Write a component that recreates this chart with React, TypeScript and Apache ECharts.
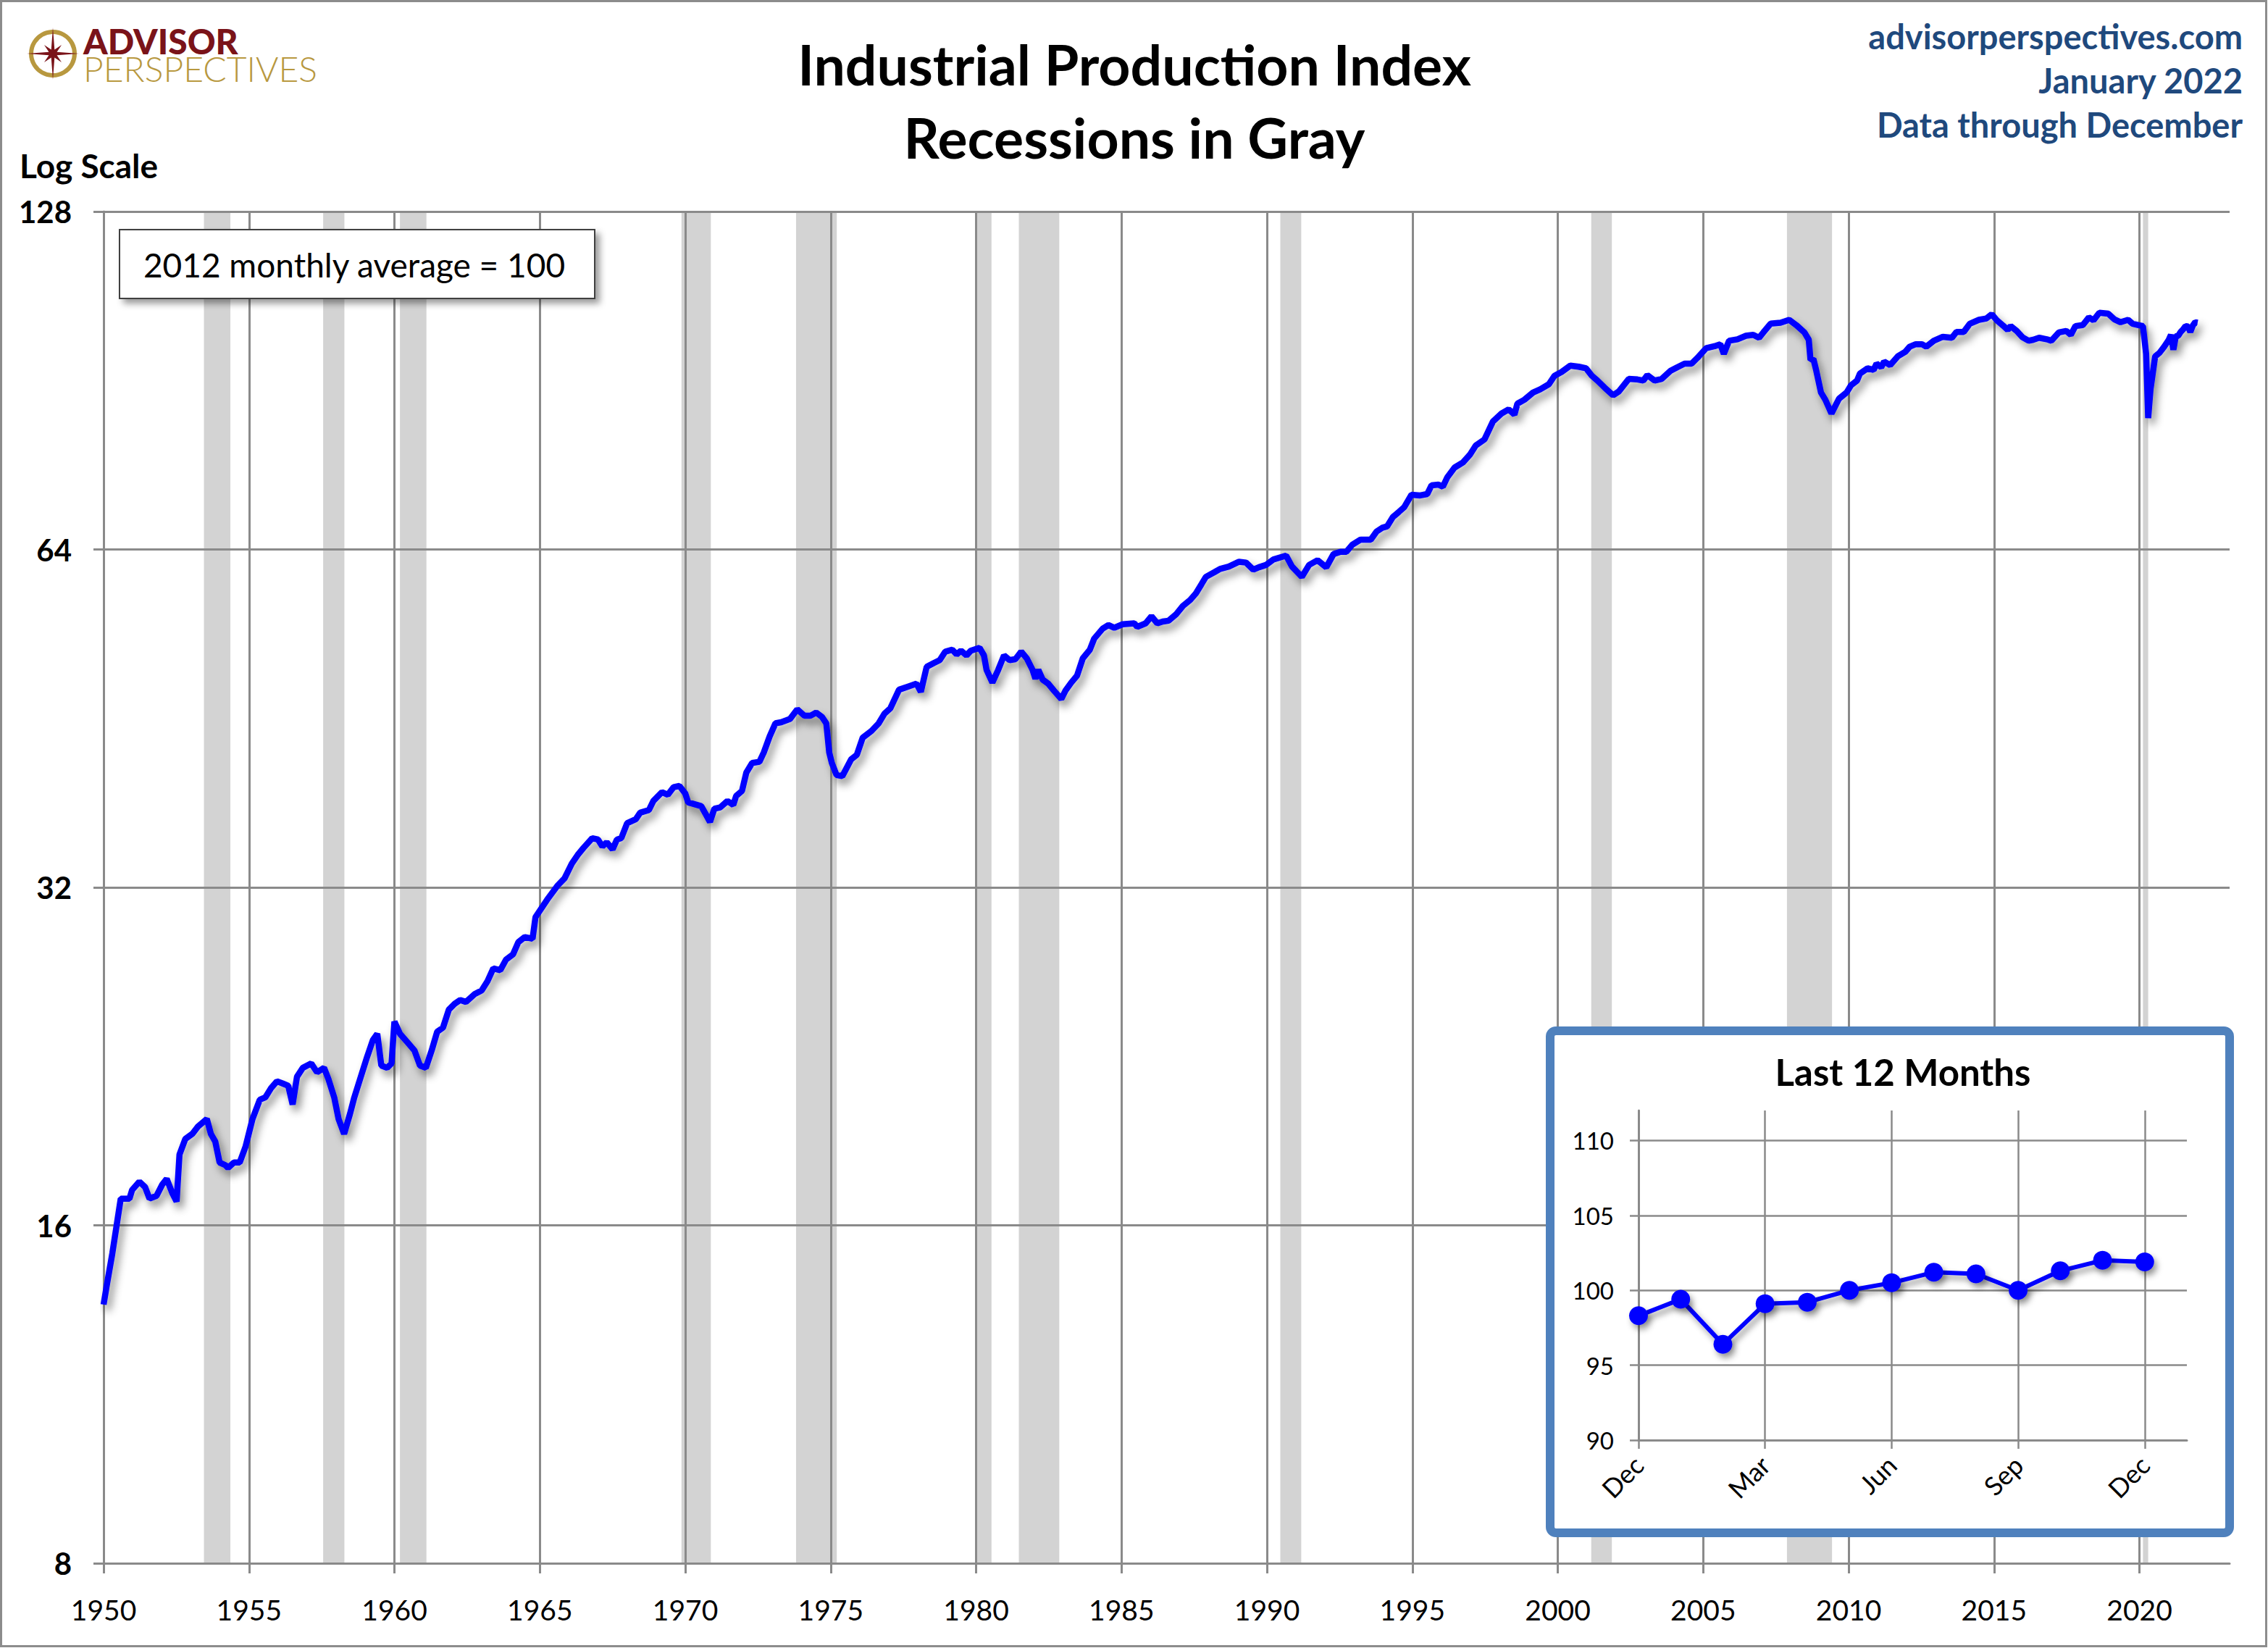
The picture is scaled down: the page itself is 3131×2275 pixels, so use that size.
import React, { useEffect, useRef } from "react";
import * as echarts from "echarts";

const FONT = "Lato";

// ---- axis ticks ----
const xTickYears = [1950, 1955, 1960, 1965, 1970, 1975, 1980, 1985, 1990, 1995, 2000, 2005, 2010, 2015, 2020];
const yTickValues = [8, 16, 32, 64, 128];

// ---- recessions (start, end as fractional years) ----
const recessions = [
  [1953.45, 1954.36], [1957.55, 1958.28], [1960.19, 1961.1], [1969.87, 1970.88],
  [1973.81, 1975.21], [1980.0, 1980.53], [1981.47, 1982.86], [1990.46, 1991.18],
  [2001.15, 2001.86], [2007.88, 2009.43], [2020.12, 2020.3],
];

// ---- Industrial production index, [year, value] ----
const ip1950s = [
  [1950.0, 13.6], [1950.1, 14.1], [1950.3, 15.1], [1950.59, 16.9], [1950.89, 16.9], [1950.98, 17.2],
  [1951.23, 17.5], [1951.43, 17.3], [1951.58, 16.9], [1951.82, 17.0], [1952.02, 17.4], [1952.17, 17.6],
  [1952.36, 17.1], [1952.51, 16.8], [1952.61, 18.5], [1952.81, 19.1], [1953.05, 19.3], [1953.25, 19.6],
  [1953.55, 19.9], [1953.69, 19.3], [1953.84, 19.0], [1953.99, 18.2], [1954.19, 18.1], [1954.28, 18.0],
  [1954.48, 18.2], [1954.68, 18.2], [1954.88, 18.8], [1955.12, 19.9], [1955.37, 20.7], [1955.56, 20.8],
  [1955.76, 21.2], [1955.96, 21.5], [1956.16, 21.4], [1956.35, 21.3], [1956.5, 20.5], [1956.65, 21.7],
  [1956.85, 22.1], [1957.14, 22.3], [1957.34, 21.9], [1957.58, 22.1], [1957.73, 21.6], [1957.93, 20.8],
  [1958.08, 19.9], [1958.27, 19.3], [1958.47, 20.1], [1958.62, 20.8], [1958.82, 21.6], [1959.06, 22.6],
  [1959.26, 23.4], [1959.41, 23.7], [1959.55, 22.2], [1959.75, 22.1], [1959.9, 22.3],
];
const ip1960s = [
  [1960.0, 24.3], [1960.19, 23.7], [1960.44, 23.3], [1960.69, 22.9], [1960.88, 22.2], [1961.08, 22.1],
  [1961.28, 22.9], [1961.47, 23.8], [1961.67, 24.0], [1961.87, 24.9], [1962.07, 25.2], [1962.26, 25.4],
  [1962.46, 25.3], [1962.75, 25.7], [1963.0, 25.9], [1963.2, 26.4], [1963.4, 27.1], [1963.64, 27.0],
  [1963.84, 27.6], [1964.08, 27.9], [1964.26, 28.6], [1964.48, 28.9], [1964.75, 28.8], [1964.85, 30.1],
  [1965.25, 31.2], [1965.6, 32.1], [1965.85, 32.6], [1966.1, 33.6], [1966.3, 34.2], [1966.5, 34.7],
  [1966.8, 35.4], [1967.0, 35.3], [1967.15, 34.8], [1967.3, 35.1], [1967.5, 34.6], [1967.65, 35.3],
  [1967.8, 35.4], [1968.0, 36.5], [1968.3, 36.8], [1968.45, 37.3], [1968.75, 37.5], [1968.9, 38.2],
  [1969.2, 38.9], [1969.4, 38.7], [1969.6, 39.3], [1969.8, 39.4],
];
const ip1970s = [
  [1970.0, 38.8], [1970.1, 38.1], [1970.4, 37.9], [1970.55, 37.8], [1970.7, 37.2], [1970.85, 36.6],
  [1971.0, 37.6], [1971.2, 37.7], [1971.45, 38.2], [1971.65, 37.9], [1971.75, 38.6], [1971.95, 39.0],
  [1972.1, 40.5], [1972.3, 41.3], [1972.55, 41.4], [1972.7, 42.2], [1972.9, 43.6], [1973.1, 44.8],
  [1973.3, 44.9], [1973.6, 45.2], [1973.85, 46.1], [1974.1, 45.5], [1974.3, 45.5], [1974.5, 45.8],
  [1974.7, 45.4], [1974.85, 44.8], [1974.95, 42.2], [1975.04, 41.3], [1975.2, 40.3], [1975.4, 40.2],
  [1975.7, 41.6], [1975.9, 42.0], [1976.1, 43.5], [1976.4, 44.1], [1976.65, 44.8], [1976.85, 45.7],
  [1977.05, 46.2], [1977.35, 48.0], [1977.65, 48.3], [1977.95, 48.6], [1978.1, 47.8], [1978.3, 50.3],
  [1978.55, 50.7], [1978.75, 51.0], [1978.94, 51.9], [1979.18, 52.1], [1979.33, 51.6], [1979.48, 52.0],
  [1979.67, 51.5], [1979.82, 52.0],
];
const ip1980s = [
  [1980.12, 52.3], [1980.27, 51.5], [1980.36, 50.0], [1980.56, 48.7], [1980.76, 50.0], [1980.96, 51.5],
  [1981.15, 51.0], [1981.35, 51.1], [1981.55, 51.9], [1981.74, 51.2], [1981.94, 50.0], [1982.04, 49.1],
  [1982.14, 50.0], [1982.29, 49.0], [1982.48, 48.6], [1982.68, 47.9], [1982.93, 47.1], [1983.07, 47.9],
  [1983.27, 48.7], [1983.47, 49.4], [1983.67, 51.2], [1983.91, 52.1], [1984.06, 53.3], [1984.35, 54.4],
  [1984.55, 54.8], [1984.75, 54.5], [1985.04, 54.9], [1985.44, 55.0], [1985.54, 54.6], [1985.83, 55.0],
  [1986.03, 55.8], [1986.23, 55.0], [1986.42, 55.2], [1986.62, 55.3], [1986.87, 56.0], [1987.11, 57.0],
  [1987.36, 57.7], [1987.56, 58.5], [1987.75, 59.6], [1987.9, 60.5], [1988.2, 61.1], [1988.39, 61.5],
  [1988.69, 61.8], [1989.03, 62.4], [1989.28, 62.3], [1989.53, 61.4], [1989.72, 61.7], [1989.97, 62.0],
];
const ip1990s = [
  [1990.22, 62.7], [1990.66, 63.2], [1990.86, 61.8], [1991.2, 60.5], [1991.45, 62.0], [1991.74, 62.6],
  [1992.04, 61.7], [1992.29, 63.4], [1992.53, 63.7], [1992.73, 63.7], [1992.93, 64.6], [1993.22, 65.3],
  [1993.57, 65.3], [1993.77, 66.4], [1993.96, 66.9], [1994.13, 67.1], [1994.33, 68.4], [1994.53, 69.1],
  [1994.72, 69.8], [1994.97, 71.6], [1995.27, 71.5], [1995.51, 71.7], [1995.66, 73.0], [1995.9, 73.1],
  [1996.05, 72.8], [1996.2, 74.2], [1996.45, 75.7], [1996.74, 76.5], [1996.99, 77.8], [1997.18, 79.2],
  [1997.48, 80.2], [1997.77, 83.2], [1998.07, 84.6], [1998.31, 85.3], [1998.51, 84.4], [1998.61, 86.3],
  [1998.85, 87.0], [1999.15, 88.3], [1999.4, 88.9], [1999.69, 89.8], [1999.89, 91.4],
];
const ip2000s = [
  [2000.13, 92.1], [2000.43, 93.3], [2000.72, 93.1], [2000.97, 92.8], [2001.17, 91.4], [2001.36, 90.5],
  [2001.61, 89.2], [2001.9, 87.8], [2002.1, 88.5], [2002.44, 90.8], [2002.74, 90.7], [2002.94, 90.5],
  [2003.08, 91.5], [2003.33, 90.5], [2003.57, 90.8], [2003.87, 92.3], [2004.11, 93.0], [2004.36, 93.7],
  [2004.6, 93.7], [2004.8, 94.8], [2005.1, 96.7], [2005.39, 97.1], [2005.59, 97.5], [2005.71, 95.6],
  [2005.89, 98.2], [2006.18, 98.5], [2006.47, 99.2], [2006.72, 99.4], [2006.92, 98.8], [2007.07, 99.9],
  [2007.32, 101.7], [2007.66, 101.9], [2007.96, 102.5], [2008.2, 101.4], [2008.48, 99.9], [2008.63, 98.4],
  [2008.69, 94.4], [2008.79, 94.6], [2008.89, 92.3], [2009.05, 88.3], [2009.2, 87.0], [2009.41, 84.6],
  [2009.67, 87.2], [2009.93, 88.3],
];
const ip2010s = [
  [2010.08, 89.6], [2010.29, 90.5], [2010.39, 91.8], [2010.65, 92.8], [2010.86, 92.5], [2010.96, 93.7],
  [2011.12, 93.0], [2011.22, 94.1], [2011.43, 93.4], [2011.69, 95.1], [2011.95, 96.0], [2012.1, 97.0],
  [2012.31, 97.5], [2012.52, 97.5], [2012.67, 97.0], [2012.93, 98.2], [2013.24, 99.0], [2013.55, 98.8],
  [2013.71, 100.0], [2013.96, 100.0], [2014.17, 101.7], [2014.48, 102.5], [2014.74, 102.8], [2014.92, 103.7],
  [2015.1, 102.4], [2015.31, 101.3], [2015.47, 100.4], [2015.57, 101.2], [2015.78, 100.2], [2015.98, 98.9],
  [2016.19, 98.2], [2016.35, 98.4], [2016.55, 98.8], [2016.81, 98.5], [2016.97, 98.2], [2017.23, 99.9],
  [2017.48, 100.2], [2017.64, 99.4], [2017.8, 101.2], [2018.05, 101.4], [2018.26, 103.0], [2018.42, 102.4],
  [2018.62, 104.0], [2018.93, 103.8], [2019.14, 102.6], [2019.35, 102.0], [2019.61, 102.5], [2019.76, 101.7],
  [2019.97, 101.4],
];
const ip2020 = [
  [2020.12, 101.2], [2020.23, 95.6], [2020.3, 83.8], [2020.38, 88.9], [2020.54, 95.1], [2020.69, 95.8],
  [2020.85, 97.0],
];

// ---- Last 12 months (Dec 2020 .. Dec 2021) ----
const insetMonths = ["Dec", "Jan", "Feb", "Mar", "Apr", "May", "Jun", "Jul", "Aug", "Sep", "Oct", "Nov", "Dec"];
const insetValues = [98.3, 99.4, 96.4, 99.1, 99.2, 100.0, 100.5, 101.2, 101.1, 100.0, 101.3, 102.0, 101.9];
const insetYTicks = [90, 95, 100, 105, 110];
const insetStartYear = 2021.0; // position of Dec 2020 on the main x axis

const GRID_COLOR = "#8A8A8A";

function buildStar(cx: number, cy: number) {
  const pts: number[][] = [];
  for (let k = 0; k < 16; k++) {
    const ang = (k * Math.PI) / 8 - Math.PI / 2;
    let r = 6;
    if (k % 4 === 0) r = 36;
    else if (k % 2 === 0) r = 17;
    pts.push([cx + r * Math.cos(ang), cy + r * Math.sin(ang)]);
  }
  return pts;
}

export default function App() {
  const ref = useRef<HTMLDivElement>(null);

  useEffect(() => {
    document.body.style.margin = "0";
    if (!ref.current) return;
    const chart = echarts.init(ref.current, null, { renderer: "svg" });

    const mainData = [
      ...ip1950s, ...ip1960s, ...ip1970s, ...ip1980s, ...ip1990s, ...ip2000s, ...ip2010s, ...ip2020,
      ...insetValues.map((v, i) => [insetStartYear + i / 12, v]),
    ];
    const insetCats = [...insetMonths, ""];

    const axisLine = { show: true, lineStyle: { color: GRID_COLOR, width: 3 } };
    const textStyle = (size: number, weight: any, fill: string, align: string) => ({
      fill,
      fontFamily: FONT,
      fontSize: size,
      fontWeight: weight,
      textAlign: align,
      textVerticalAlign: "middle",
    });

    const option: any = {
      animation: false,
      backgroundColor: "#ffffff",
      grid: [
        { left: 143, right: 53, top: 292, bottom: 117 },
        { left: 2262, width: 757, top: 1533, height: 455 },
      ],
      xAxis: [
        {
          type: "value",
          gridIndex: 0,
          min: 1950,
          max: 2023.1,
          interval: 5,
          z: 2,
          axisLine,
          axisTick: { show: true, length: 14, lineStyle: { color: GRID_COLOR, width: 3 }, customValues: xTickYears },
          axisLabel: {
            color: "#000",
            fontFamily: FONT,
            fontSize: 39,
            margin: 44,
            customValues: xTickYears,
            formatter: (v: number) => String(v),
          },
          splitLine: { show: true, lineStyle: { color: GRID_COLOR, width: 3 } },
        },
        {
          type: "category",
          gridIndex: 1,
          data: insetCats,
          boundaryGap: false,
          z: 5,
          axisLine,
          axisTick: { show: true, interval: 2, length: 12, lineStyle: { color: GRID_COLOR, width: 2.5 } },
          axisLabel: { interval: 2, rotate: 45, color: "#000", fontFamily: FONT, fontSize: 36, margin: 28 },
          splitLine: { show: true, interval: 2, lineStyle: { color: GRID_COLOR, width: 2.5 } },
        },
      ],
      yAxis: [
        {
          type: "log",
          logBase: 2,
          gridIndex: 0,
          min: 8,
          max: 128,
          z: 2,
          axisLine,
          axisTick: { show: true, length: 14, lineStyle: { color: GRID_COLOR, width: 3 }, customValues: yTickValues },
          axisLabel: {
            color: "#000",
            fontFamily: FONT,
            fontSize: 42,
            fontWeight: "bold",
            margin: 44,
            customValues: yTickValues,
          },
          splitLine: { show: true, lineStyle: { color: GRID_COLOR, width: 3 } },
        },
        {
          type: "value",
          gridIndex: 1,
          min: 90,
          max: 112,
          interval: 5,
          z: 5,
          axisLine,
          axisTick: { show: true, length: 12, lineStyle: { color: GRID_COLOR, width: 2.5 }, customValues: insetYTicks },
          axisLabel: {
            color: "#000",
            fontFamily: FONT,
            fontSize: 33,
            margin: 34,
            customValues: insetYTicks,
          },
          splitLine: { show: true, lineStyle: { color: GRID_COLOR, width: 2.5 } },
        },
      ],
      series: [
        {
          type: "custom",
          xAxisIndex: 0,
          yAxisIndex: 0,
          z: 1,
          silent: true,
          encode: { x: [0, 1], y: 2 },
          data: recessions.map((r) => [r[0], r[1], 16]),
          renderItem: (params: any, api: any) => {
            const x0 = api.coord([api.value(0), 16])[0];
            const x1 = api.coord([api.value(1), 16])[0];
            const cs = params.coordSys;
            return {
              type: "rect",
              shape: { x: x0, y: cs.y, width: x1 - x0, height: cs.height },
              style: { fill: "#D3D3D3" },
            };
          },
        },
        {
          type: "line",
          xAxisIndex: 0,
          yAxisIndex: 0,
          z: 3,
          data: mainData,
          showSymbol: false,
          silent: true,
          lineStyle: {
            color: "#0000FF",
            width: 8.5,
            shadowColor: "rgba(0,0,0,0.45)",
            shadowBlur: 12,
            shadowOffsetX: 5,
            shadowOffsetY: 8,
          },
        },
        {
          type: "line",
          xAxisIndex: 1,
          yAxisIndex: 1,
          z: 6,
          data: insetValues,
          symbol: "circle",
          symbolSize: 26,
          silent: true,
          itemStyle: {
            color: "#0000FF",
            shadowColor: "rgba(0,0,0,0.4)",
            shadowBlur: 8,
            shadowOffsetX: 4,
            shadowOffsetY: 6,
          },
          lineStyle: {
            color: "#0000FF",
            width: 6,
            shadowColor: "rgba(0,0,0,0.4)",
            shadowBlur: 8,
            shadowOffsetX: 4,
            shadowOffsetY: 6,
          },
        },
      ],
      graphic: [
        // outer border
        {
          type: "rect",
          z: 20,
          silent: true,
          shape: { x: 1.5, y: 1.5, width: 3127, height: 2271 },
          style: { fill: "none", stroke: "#8C8C8C", lineWidth: 3 },
        },
        // logo
        {
          type: "circle",
          z: 10,
          shape: { cx: 73, cy: 74, r: 30 },
          style: { fill: "none", stroke: "#B8983F", lineWidth: 6 },
        },
        {
          type: "polygon",
          z: 11,
          shape: { points: buildStar(73, 74) },
          style: { fill: "#7A1319" },
        },
        {
          type: "text",
          z: 10,
          x: 115,
          y: 37,
          style: {
            text: "{a|ADVISOR}\n{p|PERSPECTIVES}",
            textAlign: "left",
            textVerticalAlign: "top",
            rich: {
              a: { fill: "#7A1319", fontFamily: FONT, fontSize: 48, fontWeight: 900, lineHeight: 38 },
              p: { fill: "#B8983F", fontFamily: FONT, fontSize: 48, fontWeight: 300, lineHeight: 38 },
            },
          },
        },
        // title
        {
          type: "text",
          z: 10,
          x: 1566,
          y: 88,
          style: { text: "Industrial Production Index", ...textStyle(77, "bold", "#000", "center") },
        },
        {
          type: "text",
          z: 10,
          x: 1566,
          y: 189,
          style: { text: "Recessions in Gray", ...textStyle(77, "bold", "#000", "center") },
        },
        // right-hand notes
        {
          type: "text",
          z: 10,
          x: 3096,
          y: 50,
          style: { text: "advisorperspectives.com", ...textStyle(47, "bold", "#1F497D", "right") },
        },
        {
          type: "text",
          z: 10,
          x: 3096,
          y: 111,
          style: { text: "January 2022", ...textStyle(47, "bold", "#1F497D", "right") },
        },
        {
          type: "text",
          z: 10,
          x: 3096,
          y: 172,
          style: { text: "Data through December", ...textStyle(47, "bold", "#1F497D", "right") },
        },
        // Log Scale
        {
          type: "text",
          z: 10,
          x: 27,
          y: 228,
          style: { text: "Log Scale", ...textStyle(46, "bold", "#000", "left") },
        },
        // base note box
        {
          type: "rect",
          z: 8,
          shape: { x: 165, y: 317, width: 656, height: 95 },
          style: {
            fill: "#fff",
            stroke: "#404040",
            lineWidth: 2,
            shadowColor: "rgba(0,0,0,0.4)",
            shadowBlur: 10,
            shadowOffsetX: 6,
            shadowOffsetY: 6,
          },
        },
        {
          type: "text",
          z: 9,
          x: 489,
          y: 365,
          style: { text: "2012 monthly average = 100", ...textStyle(46, "normal", "#000", "center") },
        },
        // inset box
        {
          type: "rect",
          z: 4,
          shape: { x: 2140, y: 1423, width: 938, height: 693, r: 8 },
          style: { fill: "#fff", stroke: "#4F81BD", lineWidth: 12 },
        },
        {
          type: "text",
          z: 7,
          x: 2627,
          y: 1479,
          style: { text: "Last 12 Months", ...textStyle(51, "bold", "#000", "center") },
        },
      ],
    };

    chart.setOption(option);
    return () => chart.dispose();
  }, []);

  return (
    <div
      ref={ref}
      style={{ position: "absolute", left: 0, top: 0, width: 3131, height: 2275, background: "#fff" }}
    />
  );
}
